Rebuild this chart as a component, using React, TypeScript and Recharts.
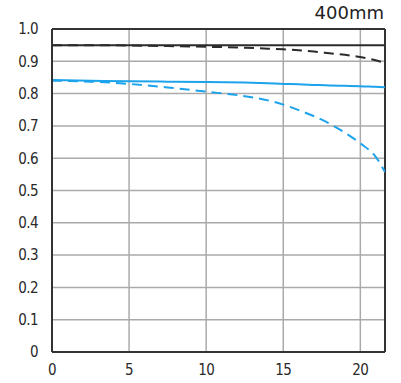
import React from "react";
import {
  LineChart,
  Line,
  XAxis,
  YAxis,
  CartesianGrid,
  ReferenceLine,
} from "recharts";

// image height (mm) sample points
const positions = [0, 2.5, 5, 7.5, 10, 12.5, 14, 15, 16, 17, 18, 19, 20, 21, 21.6];
const sagittal10 = [0.95, 0.95, 0.95, 0.95, 0.95, 0.95, 0.95, 0.95, 0.95, 0.95, 0.95, 0.95, 0.95, 0.95, 0.95];
const meridional10 = [0.95, 0.95, 0.949, 0.947, 0.945, 0.942, 0.939, 0.937, 0.934, 0.93, 0.925, 0.92, 0.913, 0.903, 0.895];
const sagittal30 = [0.842, 0.84, 0.838, 0.837, 0.836, 0.834, 0.832, 0.83, 0.829, 0.827, 0.825, 0.824, 0.823, 0.821, 0.82];
const meridional30 = [0.84, 0.837, 0.83, 0.819, 0.806, 0.792, 0.779, 0.766, 0.749, 0.73, 0.707, 0.679, 0.646, 0.604, 0.557];

const xTicks = [0, 5, 10, 15, 20];
const yTicks = [0, 0.1, 0.2, 0.3, 0.4, 0.5, 0.6, 0.7, 0.8, 0.9, 1.0];
const yLabels = ["0", "0.1", "0.2", "0.3", "0.4", "0.5", "0.6", "0.7", "0.8", "0.9", "1.0"];

const chartData = positions.map((x, i) => ({
  x,
  s10: sagittal10[i],
  m10: meridional10[i],
  s30: sagittal30[i],
  m30: meridional30[i],
}));

const tickStyle = {
  fontFamily: "'DejaVu Sans Condensed', 'Liberation Sans', sans-serif",
  fontSize: 15,
  fontWeight: 500,
  fill: "#2a2a2a",
  letterSpacing: -0.6,
};

const App = () => {
  return (
    <div style={{ position: "absolute", left: 0, top: 0, width: 401, height: 383, background: "#fff" }}>
      <LineChart
        width={401}
        height={383}
        data={chartData}
        margin={{ top: 29, right: 16, left: 0, bottom: 0 }}
      >
        <CartesianGrid stroke="#aaa" strokeWidth={1.5} />
        <XAxis
          dataKey="x"
          type="number"
          domain={[0, 21.6]}
          ticks={xTicks}
          allowDataOverflow
          height={31}
          tickLine={false}
          tickMargin={6}
          axisLine={{ stroke: "#333", strokeWidth: 2 }}
          tick={tickStyle}
        />
        <YAxis
          type="number"
          domain={[0, 1]}
          ticks={yTicks}
          width={52}
          tickLine={false}
          tickMargin={8}
          interval={0}
          axisLine={{ stroke: "#333", strokeWidth: 2 }}
          tick={tickStyle}
          tickFormatter={(v: number) => yLabels[Math.round(v * 10)]}
        />
        <ReferenceLine y={1} stroke="#333" strokeWidth={2} />
        <ReferenceLine x={21.6} stroke="#333" strokeWidth={2} />
        <Line dataKey="s10" type="monotone" stroke="#2b2b2b" strokeWidth={2} dot={false} isAnimationActive={false} />
        <Line dataKey="m10" type="monotone" stroke="#2b2b2b" strokeWidth={2} strokeDasharray="10 6" dot={false} isAnimationActive={false} />
        <Line dataKey="s30" type="monotone" stroke="#1ca3ec" strokeWidth={2} dot={false} isAnimationActive={false} />
        <Line dataKey="m30" type="monotone" stroke="#1ca3ec" strokeWidth={2} strokeDasharray="10 6" dot={false} isAnimationActive={false} />
      </LineChart>
      <div
        style={{
          position: "absolute",
          right: 17,
          top: 2,
          fontFamily: "'DejaVu Sans', sans-serif",
          fontSize: 18,
          color: "#222",
        }}
      >
        400mm
      </div>
    </div>
  );
};

export default App;
